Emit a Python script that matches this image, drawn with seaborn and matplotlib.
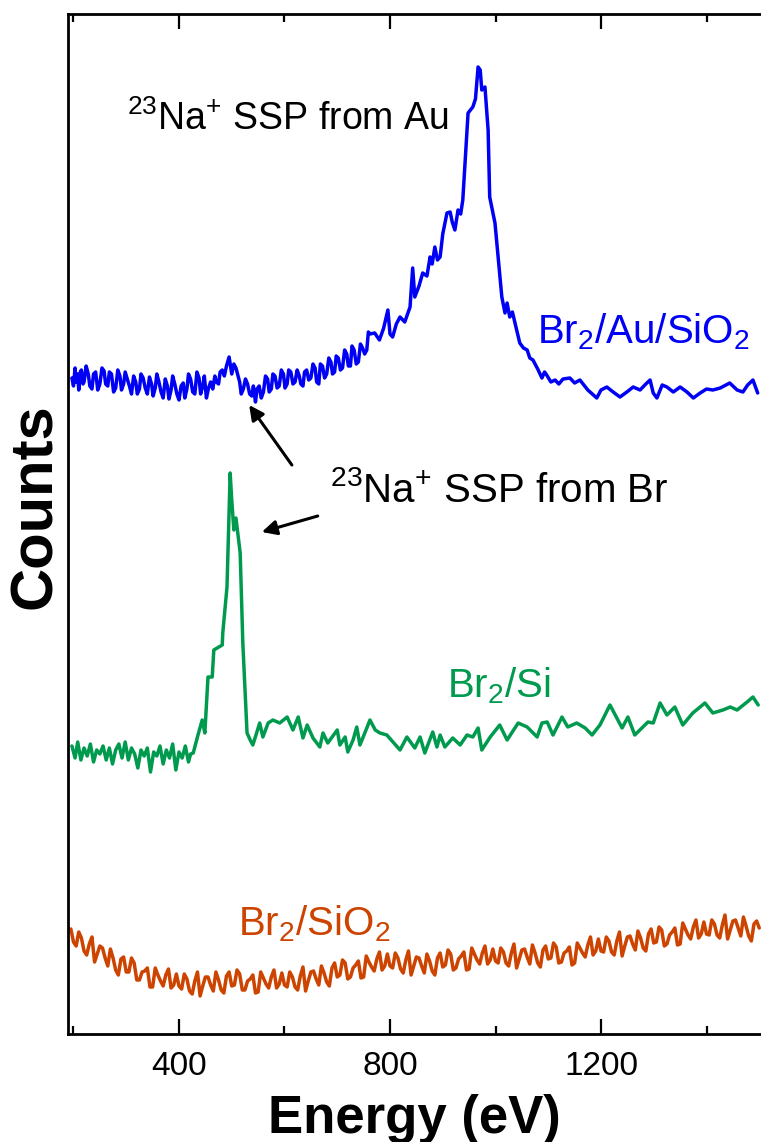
import matplotlib
matplotlib.use("Agg")
import matplotlib.pyplot as plt
import numpy as np
import pandas as pd
import seaborn as sns

# ---------------- data (energy in eV, counts in arbitrary offset units) ----------------
blue_points = [
    (197, 656), (200, 648), (203, 666), (205, 652), (208, 660), (210, 644), (213, 662), (215, 664),
    (218, 650), (220, 652), (224, 668), (228, 660), (231, 648), (235, 645), (238, 660), (242, 662),
    (246, 644), (250, 650), (254, 666), (258, 663), (261, 650), (265, 648), (268, 662), (272, 660),
    (276, 642), (280, 646), (284, 664), (288, 658), (291, 644), (295, 650), (298, 662), (302, 655),
    (306, 648), (310, 640), (314, 658), (318, 652), (321, 640), (325, 645), (328, 660), (332, 656),
    (336, 646), (340, 640), (344, 657), (348, 650), (351, 638), (355, 646), (358, 660), (362, 652),
    (366, 642), (370, 636), (374, 655), (378, 648), (381, 635), (385, 644), (388, 658), (392, 650),
    (396, 640), (400, 634), (404, 648), (408, 651), (411, 636), (415, 645), (418, 660), (422, 655),
    (426, 642), (430, 640), (434, 662), (438, 656), (441, 640), (445, 648), (448, 658), (452, 636),
    (456, 646), (460, 652), (464, 645), (468, 658), (471, 652), (475, 650), (478, 662), (482, 664),
    (486, 658), (490, 668), (495, 677), (500, 660), (504, 670), (508, 666), (512, 658), (515, 652),
    (518, 640), (522, 645), (526, 655), (530, 650), (534, 640), (538, 638), (541, 648), (545, 632),
    (548, 645), (552, 648), (556, 636), (560, 642), (564, 658), (568, 655), (571, 642), (575, 645),
    (578, 660), (582, 658), (586, 646), (590, 648), (594, 664), (598, 660), (601, 646), (605, 650),
    (608, 664), (612, 662), (616, 650), (620, 652), (624, 664), (628, 658), (631, 650), (635, 648),
    (638, 662), (642, 664), (646, 654), (650, 656), (654, 670), (658, 666), (661, 652), (665, 650),
    (668, 670), (672, 668), (676, 656), (680, 660), (684, 676), (688, 672), (691, 660), (695, 662),
    (698, 678), (702, 676), (706, 664), (710, 666), (714, 684), (718, 680), (721, 668), (725, 668),
    (728, 688), (732, 684), (736, 670), (740, 672), (744, 690), (748, 686), (752, 680), (756, 684),
    (759, 702), (762, 700), (771, 701), (780, 694), (788, 706), (796, 724), (800, 700), (805, 697),
    (812, 710), (819, 717), (828, 712), (838, 727), (843, 766), (847, 737), (855, 748), (862, 761),
    (870, 758), (876, 777), (880, 770), (885, 787), (890, 774), (895, 777), (900, 800), (908, 821),
    (914, 822), (918, 812), (923, 804), (929, 824), (934, 820), (938, 834), (948, 921), (957, 927),
    (962, 935), (967, 967), (971, 964), (974, 944), (980, 947), (986, 904), (989, 837), (999, 811),
    (1005, 777), (1012, 737), (1018, 721), (1022, 731), (1027, 717), (1032, 722), (1037, 711),
    (1046, 691), (1053, 686), (1060, 684), (1065, 676), (1071, 674), (1080, 665), (1088, 656),
    (1093, 662), (1097, 659), (1105, 652), (1113, 654), (1120, 650), (1128, 655), (1141, 656),
    (1150, 651), (1160, 654), (1175, 644), (1192, 636), (1200, 644), (1211, 647), (1223, 642),
    (1236, 637), (1249, 642), (1261, 647), (1274, 644), (1285, 650), (1293, 654), (1299, 641),
    (1306, 636), (1316, 649), (1325, 647), (1337, 642), (1350, 647), (1363, 642), (1375, 636),
    (1388, 641), (1400, 645), (1412, 644), (1426, 646), (1444, 651), (1458, 644), (1469, 642),
    (1478, 649), (1488, 654), (1497, 641),
]

green_points = [
    (197, 288), (203, 276), (208, 292), (214, 274), (220, 286), (226, 278), (232, 290), (238, 272),
    (244, 284), (250, 280), (256, 288), (262, 274), (268, 286), (274, 270), (280, 284), (286, 290),
    (292, 276), (298, 292), (304, 274), (310, 286), (316, 280), (322, 266), (328, 284), (334, 278),
    (340, 286), (346, 262), (352, 282), (358, 278), (364, 288), (370, 270), (376, 284), (382, 276),
    (388, 290), (394, 264), (400, 282), (406, 276), (412, 288), (418, 272), (422, 280), (427, 281),
    (436, 299), (444, 314), (449, 301), (455, 357), (463, 357), (466, 384), (482, 389), (483, 401),
    (491, 447), (497, 561), (500, 534), (504, 504), (508, 516), (516, 481), (521, 391), (529, 301),
    (535, 294), (540, 289), (553, 311), (559, 297), (569, 311), (578, 314), (591, 311), (605, 317),
    (616, 304), (626, 317), (635, 296), (643, 309), (654, 296), (667, 287), (673, 301), (682, 291),
    (700, 304), (705, 289), (715, 297), (720, 282), (730, 294), (737, 307), (743, 289), (753, 302),
    (762, 314), (772, 304), (781, 301), (794, 299), (819, 284), (832, 297), (847, 286), (857, 297),
    (866, 281), (881, 302), (889, 287), (895, 299), (904, 287), (919, 296), (933, 289), (946, 299),
    (957, 297), (967, 306), (974, 284), (990, 297), (1008, 309), (1022, 294), (1043, 311), (1060, 307),
    (1079, 297), (1088, 311), (1098, 312), (1109, 299), (1126, 317), (1137, 307), (1154, 311),
    (1170, 306), (1183, 299), (1198, 309), (1217, 329), (1240, 306), (1251, 317), (1264, 299),
    (1289, 312), (1299, 311), (1312, 331), (1325, 319), (1340, 327), (1355, 309), (1374, 321),
    (1397, 331), (1412, 321), (1431, 324), (1445, 327), (1458, 324), (1477, 332), (1488, 337),
    (1498, 329),
]

orange_points = [
    (195, 105), (200, 92), (205, 88), (210, 102), (215, 96), (220, 83), (225, 79), (230, 90),
    (235, 97), (240, 72), (245, 80), (250, 88), (255, 86), (260, 76), (265, 68), (270, 85),
    (275, 76), (280, 64), (285, 59), (290, 75), (295, 77), (300, 62), (305, 62), (310, 76),
    (315, 71), (320, 54), (325, 54), (330, 62), (335, 63), (340, 66), (345, 47), (350, 47),
    (355, 66), (360, 59), (365, 53), (370, 48), (375, 59), (380, 65), (385, 46), (390, 49),
    (395, 60), (400, 48), (405, 45), (410, 60), (415, 55), (420, 43), (425, 40), (430, 53),
    (435, 62), (440, 38), (445, 48), (450, 57), (455, 57), (460, 49), (465, 43), (470, 62),
    (475, 54), (480, 44), (485, 41), (490, 58), (495, 62), (500, 48), (505, 49), (510, 64),
    (515, 60), (520, 44), (525, 44), (530, 53), (535, 55), (540, 59), (545, 41), (550, 42),
    (555, 62), (560, 56), (565, 50), (570, 46), (575, 57), (580, 64), (585, 46), (590, 50),
    (595, 61), (600, 49), (605, 47), (610, 62), (615, 57), (620, 47), (625, 44), (630, 58),
    (635, 67), (640, 43), (645, 53), (650, 62), (655, 63), (660, 55), (665, 49), (670, 68),
    (675, 61), (680, 52), (685, 48), (690, 66), (695, 71), (700, 57), (705, 59), (710, 74),
    (715, 71), (720, 55), (725, 57), (730, 66), (735, 69), (740, 73), (745, 56), (750, 57),
    (755, 78), (760, 72), (765, 67), (770, 63), (775, 75), (780, 82), (785, 64), (790, 68),
    (795, 80), (800, 68), (805, 66), (810, 81), (815, 76), (820, 65), (825, 61), (830, 74),
    (835, 83), (840, 59), (845, 68), (850, 77), (855, 76), (860, 68), (865, 61), (870, 80),
    (875, 73), (880, 63), (885, 59), (890, 76), (895, 81), (900, 67), (905, 69), (910, 84),
    (915, 80), (920, 64), (925, 66), (930, 75), (935, 78), (940, 82), (945, 64), (950, 65),
    (955, 86), (960, 80), (965, 74), (970, 70), (975, 81), (980, 88), (985, 70), (990, 74),
    (995, 85), (1000, 73), (1005, 71), (1010, 86), (1015, 82), (1020, 71), (1025, 68), (1030, 81),
    (1035, 90), (1040, 66), (1045, 75), (1050, 84), (1055, 85), (1060, 77), (1065, 70), (1070, 89),
    (1075, 81), (1080, 71), (1085, 67), (1090, 84), (1095, 88), (1100, 75), (1105, 76), (1110, 91),
    (1115, 87), (1120, 71), (1125, 72), (1130, 81), (1135, 83), (1140, 87), (1145, 69), (1150, 71),
    (1155, 91), (1160, 86), (1165, 81), (1170, 77), (1175, 89), (1180, 97), (1185, 79), (1190, 83),
    (1195, 95), (1200, 83), (1205, 82), (1210, 97), (1215, 93), (1220, 82), (1225, 79), (1230, 93),
    (1235, 102), (1240, 78), (1245, 88), (1250, 97), (1255, 98), (1260, 90), (1265, 84), (1270, 103),
    (1275, 96), (1280, 86), (1285, 83), (1290, 100), (1295, 105), (1300, 91), (1305, 92), (1310, 107),
    (1315, 104), (1320, 88), (1325, 90), (1330, 99), (1335, 102), (1340, 106), (1345, 89), (1350, 90),
    (1355, 111), (1360, 105), (1365, 99), (1370, 95), (1375, 107), (1380, 114), (1385, 96), (1390, 100),
    (1395, 112), (1400, 100), (1405, 99), (1410, 114), (1415, 110), (1420, 99), (1425, 96), (1430, 109),
    (1435, 119), (1440, 95), (1445, 104), (1450, 113), (1455, 114), (1460, 106), (1465, 98), (1470, 117),
    (1475, 108), (1480, 98), (1485, 93), (1490, 110), (1495, 113), (1500, 106),
]

series_names = ["Br2/Au/SiO2", "Br2/Si", "Br2/SiO2"]
series_colors = ["#0000F5", "#009A4E", "#CC4400"]
x_major_ticks = [400, 800, 1200]
x_minor_ticks = [200, 600, 1000, 1400]

# ---------------- style ----------------
sns.set_theme(style="ticks")
plt.rcParams["font.family"] = ["Liberation Sans", "DejaVu Sans"]
plt.rcParams["mathtext.fontset"] = "custom"
plt.rcParams["mathtext.rm"] = "Liberation Sans"
plt.rcParams["mathtext.it"] = "Liberation Sans:italic"
plt.rcParams["mathtext.bf"] = "Liberation Sans:bold"
plt.rcParams["mathtext.default"] = "regular"
plt.rcParams["text.color"] = "black"
plt.rcParams["axes.labelcolor"] = "black"
plt.rcParams["xtick.color"] = "black"
plt.rcParams["xtick.labelcolor"] = "black"

W, H = 761, 1142
fig = plt.figure(figsize=(W / 100, H / 100), dpi=100)
ax = fig.add_axes([68 / W, (H - 1034) / H, (W - 68) / W, (1034 - 14) / H])

frames = []
for name, pts in zip(series_names, [blue_points, green_points, orange_points]):
    e, c = zip(*pts)
    frames.append(pd.DataFrame({"Energy": e, "Counts": c, "Sample": name}))
df = pd.concat(frames, ignore_index=True)

for name, color in zip(series_names, series_colors):
    sns.lineplot(data=df[df["Sample"] == name], x="Energy", y="Counts", color=color,
                 linewidth=2.5, estimator=None, sort=False, ax=ax)

ax.set_xlim(189.6, 1503.3)
ax.set_ylim(0, 1020)
ax.set_xticks(x_major_ticks)
ax.set_xticks(x_minor_ticks, minor=True)
ax.set_xticklabels([str(t) for t in x_major_ticks])
ax.set_yticks([])
ax.tick_params(axis="x", which="both", direction="in", top=True, bottom=True,
               width=1.6, color="black", labelcolor="black", labelsize=24, pad=12)
ax.tick_params(axis="x", which="major", length=11)
ax.tick_params(axis="x", which="minor", length=6)
for s in ["left", "bottom", "top"]:
    ax.spines[s].set_linewidth(2.0)
    ax.spines[s].set_color("black")
ax.spines["right"].set_visible(False)

ax.set_xlabel("Energy (eV)", fontsize=38, fontweight="bold", labelpad=9, color="black")
ax.set_ylabel("Counts", fontsize=43, fontweight="bold", color="black")
ax.yaxis.set_label_coords(-0.007, 0.518)

ax.text(301, 904, "$^{23}$Na$^{+}$ SSP from Au", fontsize=27, color="black", ha="left", va="baseline")
ax.text(1078, 691, "Br$_{2}$/Au/SiO$_{2}$", fontsize=29, color=series_colors[0], ha="left", va="baseline")
ax.text(686, 532, "$^{23}$Na$^{+}$ SSP from Br", fontsize=29, color="black", ha="left", va="baseline")
ax.text(908, 337, "Br$_{2}$/Si", fontsize=29, color=series_colors[1], ha="left", va="baseline")
ax.text(512, 99, "Br$_{2}$/SiO$_{2}$", fontsize=29, color=series_colors[2], ha="left", va="baseline")

arrow = dict(arrowstyle="-|>", lw=2.2, color="black", mutation_scale=22, shrinkA=0, shrinkB=0)
ax.annotate("", xy=(533, 629), xytext=(614, 569), arrowprops=arrow)
ax.annotate("", xy=(557, 502), xytext=(663, 518), arrowprops=arrow)

fig.savefig("out.png", dpi=100)
